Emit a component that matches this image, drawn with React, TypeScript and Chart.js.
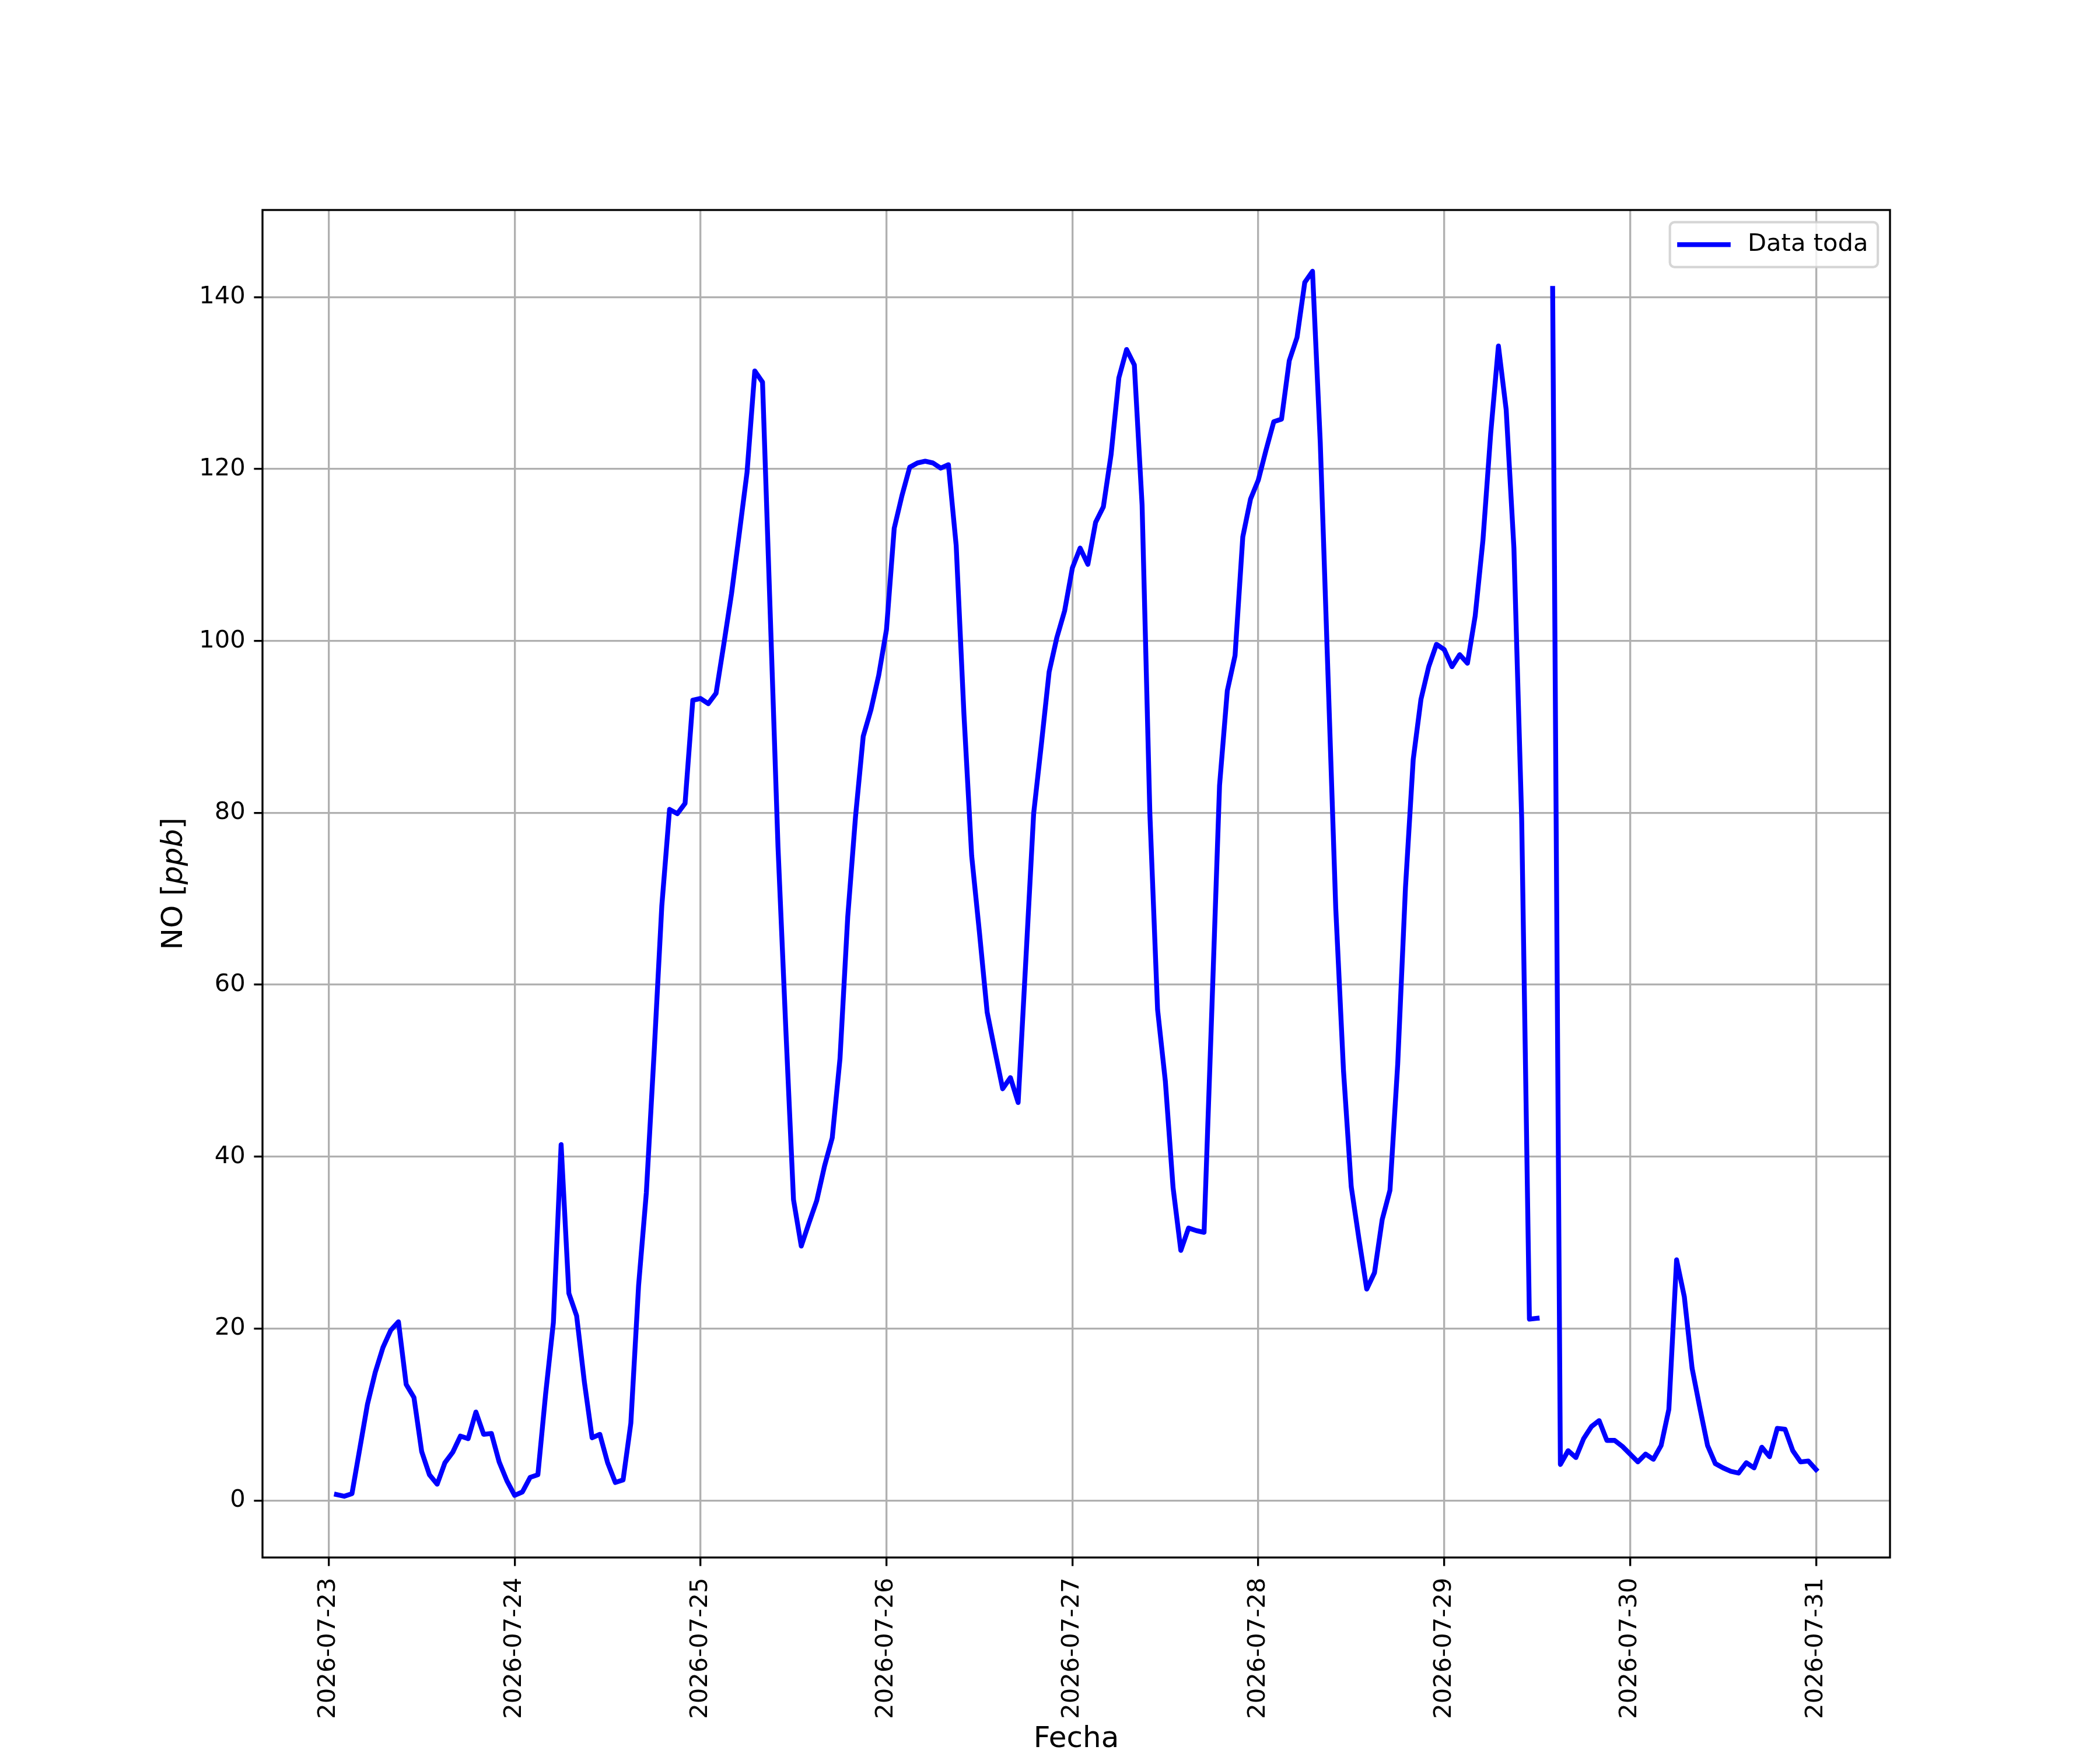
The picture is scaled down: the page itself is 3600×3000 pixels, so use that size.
import React, { useEffect, useRef } from "react";
import { Chart, registerables } from "chart.js";

Chart.register(...registerables);

// ---- Data (hourly NO readings, first reading at 2026-07-23 01:00) ----
const firstHour = 1; // hours after 2026-07-23 00:00

const noDay23 = [0.7, 0.5, 0.8, 6.0, 11.2, 14.9, 17.8, 19.8, 20.8, 13.5, 12.0, 5.7, 3.0, 1.9, 4.4, 5.6, 7.5, 7.2, 10.3, 7.7, 7.8, 4.5, 2.3, 0.6];
const noDay24 = [1.0, 2.7, 3.0, 12.4, 20.7, 41.4, 24.1, 21.5, 13.8, 7.3, 7.7, 4.4, 2.1, 2.4, 9.0, 25.0, 35.8, 52.0, 69.2, 80.4, 79.9, 81.1, 93.1, 93.3];
const noDay25 = [92.7, 93.9, 99.6, 105.5, 112.5, 119.6, 131.4, 130.1, 103.0, 76.0, 55.0, 35.0, 29.6, 32.3, 34.9, 38.9, 42.2, 51.4, 67.9, 79.5, 88.9, 92.0, 96.0, 101.3];
const noDay26 = [113.1, 116.9, 120.2, 120.7, 120.9, 120.7, 120.1, 120.5, 111.1, 91.5, 75.0, 66.1, 56.8, 52.3, 47.9, 49.2, 46.3, 63.0, 79.9, 88.0, 96.4, 100.4, 103.5, 108.5];
const noDay27 = [110.8, 108.9, 113.8, 115.6, 121.7, 130.6, 133.9, 132.1, 115.8, 80.0, 57.1, 48.8, 36.4, 29.1, 31.7, 31.4, 31.2, 57.0, 83.2, 94.2, 98.3, 112.1, 116.5, 118.7];
const noDay28 = [122.2, 125.5, 125.8, 132.6, 135.3, 141.7, 143.0, 123.1, 96.0, 68.9, 50.0, 36.5, 30.4, 24.6, 26.5, 32.7, 36.1, 50.8, 71.3, 86.2, 93.2, 97.0, 99.6, 99.0];
const noDay29 = [97.0, 98.4, 97.4, 102.9, 111.7, 124.1, 134.3, 126.9, 110.8, 79.4, 21.1, 21.2, null, 141.0, 4.2, 5.8, 5.0, 7.2, 8.6, 9.3, 7.0, 7.0, 6.3, 5.4];
const noDay30 = [4.5, 5.4, 4.8, 6.4, 10.6, 28.0, 23.7, 15.4, 10.8, 6.4, 4.3, 3.8, 3.4, 3.2, 4.4, 3.8, 6.2, 5.1, 8.4, 8.3, 5.8, 4.5, 4.6, 3.6];

const dateTickHours = [0, 24, 48, 72, 96, 120, 144, 168, 192];
const dateTickLabels = ["2026-07-23", "2026-07-24", "2026-07-25", "2026-07-26", "2026-07-27", "2026-07-28", "2026-07-29", "2026-07-30", "2026-07-31"];
const yTickValues = [0, 20, 40, 60, 80, 100, 120, 140];

const seriesLabel = "Data toda";
const xTitle = "Fecha";
const yTitleParts: [string, boolean][] = [["NO [", false], ["ppb", true], ["]", false]];

const FONT = '"DejaVu Sans"';
const TICK_FS = 41.67;
const LABEL_FS = 50;

export default function App() {
  const ref = useRef<HTMLCanvasElement | null>(null);

  useEffect(() => {
    const canvas = ref.current;
    if (!canvas) return;

    const values: (number | null)[] = [
      ...noDay23, ...noDay24, ...noDay25, ...noDay26,
      ...noDay27, ...noDay28, ...noDay29, ...noDay30,
    ];
    const points = values.map((v, i) => ({ x: firstHour + i, y: v }));
    const finite = values.filter((v) => v !== null) as number[];
    const yLo = Math.min(...finite);
    const yHi = Math.max(...finite);
    const yPad = (yHi - yLo) * 0.05;
    const xLo = firstHour;
    const xHi = firstHour + values.length - 1;
    const xPad = (xHi - xLo) * 0.05;

    const overlay = {
      id: "overlay",
      beforeDraw(chart: any) {
        const c = chart.ctx;
        c.save();
        c.fillStyle = "#ffffff";
        c.fillRect(0, 0, chart.width, chart.height);
        c.restore();
      },
      afterDatasetsDraw(chart: any) {
        const c = chart.ctx;
        const a = chart.chartArea;
        c.save();
        c.strokeStyle = "#000000";
        c.lineWidth = 3.33;
        c.lineJoin = "miter";
        c.strokeRect(a.left, a.top, a.right - a.left, a.bottom - a.top);
        c.restore();
      },
      afterDraw(chart: any) {
        const c = chart.ctx;
        const a = chart.chartArea;
        c.save();
        // x title
        c.fillStyle = "#000000";
        c.font = `${LABEL_FS}px ${FONT}`;
        c.textAlign = "center";
        c.textBaseline = "alphabetic";
        c.fillText(xTitle, (a.left + a.right) / 2, 2995);

        // y title (rotated, mixed styles)
        const cy = (a.top + a.bottom) / 2;
        let total = 0;
        const widths = yTitleParts.map(([t, it]) => {
          c.font = `${it ? "italic " : ""}${LABEL_FS}px ${FONT}`;
          const w = c.measureText(t).width;
          total += w;
          return w;
        });
        c.translate(312, cy);
        c.rotate(-Math.PI / 2);
        c.textAlign = "left";
        let px = -total / 2;
        yTitleParts.forEach(([t, it], i) => {
          c.font = `${it ? "italic " : ""}${LABEL_FS}px ${FONT}`;
          c.fillText(t, px, 0);
          px += widths[i];
        });
        c.restore();

        // legend
        c.save();
        c.font = `${TICK_FS}px ${FONT}`;
        const tw = c.measureText(seriesLabel).width;
        const pad = 0.4 * TICK_FS;
        const handle = 2 * TICK_FS;
        const gap = 0.8 * TICK_FS;
        const bw = pad + handle + gap + tw + pad;
        const bh = 77;
        const bx = a.right - 0.5 * TICK_FS - bw;
        const by = a.top + 0.5 * TICK_FS;
        c.beginPath();
        if ((c as any).roundRect) (c as any).roundRect(bx, by, bw, bh, 8);
        else c.rect(bx, by, bw, bh);
        c.fillStyle = "rgba(255,255,255,0.8)";
        c.fill();
        c.lineWidth = 4.17;
        c.strokeStyle = "rgba(204,204,204,0.8)";
        c.stroke();
        const ly = by + bh / 2;
        c.beginPath();
        c.moveTo(bx + pad, ly);
        c.lineTo(bx + pad + handle, ly);
        c.lineWidth = 8.33;
        c.lineCap = "square";
        c.strokeStyle = "#0000ff";
        c.stroke();
        c.fillStyle = "#000000";
        c.textAlign = "left";
        c.textBaseline = "middle";
        c.fillText(seriesLabel, bx + pad + handle + gap, ly);
        c.restore();
      },
    };

    const chart = new Chart(canvas, {
      type: "line",
      data: {
        datasets: [
          {
            label: seriesLabel,
            data: points as any,
            borderColor: "#0000ff",
            backgroundColor: "#0000ff",
            borderWidth: 8.33,
            pointRadius: 0,
            pointHoverRadius: 0,
            tension: 0,
            fill: false,
            spanGaps: false,
            borderCapStyle: "square",
            borderJoinStyle: "round",
          },
        ],
      },
      options: {
        responsive: false,
        animation: false,
        devicePixelRatio: 1,
        events: [],
        layout: { padding: { left: 0, top: 360, right: 360, bottom: 0 } },
        plugins: {
          legend: { display: false },
          tooltip: { enabled: false },
          title: { display: false },
        },
        scales: {
          x: {
            type: "linear",
            min: xLo - xPad,
            max: xHi + xPad,
            afterBuildTicks: (s: any) => {
              s.ticks = dateTickHours.map((v) => ({ value: v }));
            },
            afterFit: (s: any) => {
              s.height = 330;
            },
            ticks: {
              autoSkip: false,
              minRotation: 90,
              maxRotation: 90,
              padding: 20,
              color: "#000000",
              font: { family: "DejaVu Sans", size: TICK_FS },
              callback: (_v: any, i: number) => dateTickLabels[i],
            },
            grid: {
              color: "#b0b0b0",
              lineWidth: 3.33,
              drawTicks: true,
              tickLength: 14.6,
              tickColor: "#000000",
              tickWidth: 3.33,
            },
            border: { display: false },
          },
          y: {
            type: "linear",
            min: yLo - yPad,
            max: yHi + yPad,
            afterBuildTicks: (s: any) => {
              s.ticks = yTickValues.map((v) => ({ value: v }));
            },
            afterFit: (s: any) => {
              s.width = 450;
            },
            ticks: {
              padding: 14.6,
              color: "#000000",
              font: { family: "DejaVu Sans", size: TICK_FS },
              callback: (v: any) => String(v),
            },
            grid: {
              color: "#b0b0b0",
              lineWidth: 3.33,
              drawTicks: true,
              tickLength: 14.6,
              tickColor: "#000000",
              tickWidth: 3.33,
            },
            border: { display: false },
          },
        },
      },
      plugins: [overlay],
    });

    return () => chart.destroy();
  }, []);

  return (
    <div style={{ position: "absolute", left: 0, top: 0, width: 3600, height: 3000 }}>
      <canvas ref={ref} width={3600} height={3000} style={{ display: "block", width: 3600, height: 3000 }} />
    </div>
  );
}
